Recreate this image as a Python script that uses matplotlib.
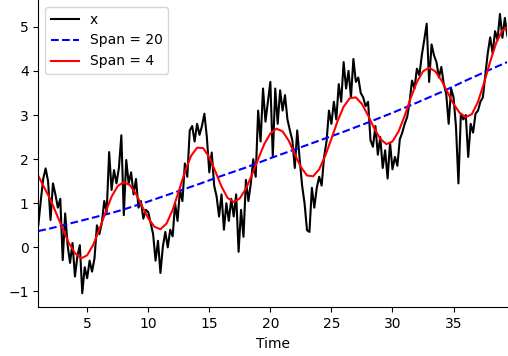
#!/usr/bin/env python3
"""
plot_ewma.py
------------
Noisy series x over time together with two exponentially weighted moving
averages (span 20 and span 4). Writes out.png.
"""

import matplotlib
matplotlib.use("Agg")
import matplotlib.pyplot as plt
import numpy as np

# ---------------------------------------------------------------------------
# Data
# ---------------------------------------------------------------------------

# raw series, sampled every 0.2 time units from t = 1.0
X_START = 1.0
X_STEP = 0.2
x_values = [
    0.50, 1.05, 1.55, 1.79, 1.50, 0.62, 1.45, 1.20, 0.90, 1.10,
    -0.29, 0.77, 0.05, -0.35, 0.10, -0.66, -0.20, 0.05, -1.04, -0.45,
    -0.70, -0.30, -0.55, -0.25, 0.50, 0.30, 0.55, 1.05, 0.80, 2.16,
    1.30, 1.75, 1.45, 1.80, 2.54, 0.73, 1.98, 1.45, 1.70, 1.20,
    1.55, 0.90, 1.05, 0.65, 0.85, 0.80, 0.55, 0.30, -0.30, 0.15,
    -0.58, 0.02, 0.35, 0.00, 0.40, 0.25, 1.00, 0.60, 1.30, 1.05,
    1.90, 1.60, 2.65, 2.75, 2.40, 2.80, 2.55, 2.75, 3.03, 2.50,
    1.70, 2.15, 1.40, 1.15, 0.70, 1.20, 0.40, 1.00, 0.60, 1.10,
    0.70, 1.20, -0.10, 0.85, 0.24, 1.53, 1.05, 1.45, 2.00, 1.60,
    3.10, 2.40, 3.60, 2.85, 3.30, 3.75, 2.05, 3.60, 2.80, 3.56,
    3.10, 3.45, 2.90, 2.65, 2.43, 1.80, 2.65, 2.00, 1.40, 1.00,
    0.39, 0.35, 1.35, 0.90, 1.35, 1.60, 1.40, 2.05, 2.40, 3.10,
    2.80, 3.30, 2.90, 3.70, 3.30, 4.20, 3.60, 4.00, 3.40, 4.27,
    3.75, 3.85, 3.50, 3.40, 3.20, 3.30, 2.43, 2.28, 2.75, 2.10,
    2.50, 1.80, 2.20, 1.56, 2.37, 1.77, 2.05, 1.85, 2.45, 2.60,
    2.80, 2.95, 3.30, 3.78, 3.60, 4.05, 3.90, 4.35, 4.70, 5.07,
    3.75, 4.60, 4.35, 4.20, 3.85, 4.09, 3.70, 3.48, 2.80, 3.60,
    3.40, 2.73, 1.45, 3.03, 2.90, 3.00, 2.05, 2.80, 2.60, 3.03,
    3.10, 3.30, 3.40, 3.90, 4.40, 4.76, 4.40, 4.90, 4.70, 5.29,
    4.75, 5.20, 4.80,
]

# slow average (span = 20)
span20_time = [1, 2, 3, 4, 5, 6, 7, 8, 9, 10, 12, 14, 16, 18, 20, 22, 24,
               26, 28, 30, 32, 34, 36, 38, 39.4]
span20_values = [0.37, 0.43, 0.50, 0.57, 0.64, 0.71, 0.78, 0.86, 0.95, 1.04,
                 1.23, 1.42, 1.62, 1.81, 2.02, 2.22, 2.42, 2.62, 2.83, 3.05,
                 3.28, 3.52, 3.78, 4.03, 4.20]

# fast average (span = 4), every 0.5 time units
span4_time = [1.0, 1.5, 2.0, 2.5, 3.0, 3.5, 4.0, 4.5, 5.0, 5.5,
              6.0, 6.5, 7.0, 7.5, 8.0, 8.5, 9.0, 9.5, 10.0, 10.5,
              11.0, 11.5, 12.0, 12.5, 13.0, 13.5, 14.0, 14.5, 15.0, 15.5,
              16.0, 16.5, 17.0, 17.5, 18.0, 18.5, 19.0, 19.5, 20.0, 20.5,
              21.0, 21.5, 22.0, 22.5, 23.0, 23.5, 24.0, 24.5, 25.0, 25.5,
              26.0, 26.5, 27.0, 27.5, 28.0, 28.5, 29.0, 29.5, 30.0, 30.5,
              31.0, 31.5, 32.0, 32.5, 33.0, 33.5, 34.0, 34.5, 35.0, 35.5,
              36.0, 36.5, 37.0, 37.5, 38.0, 38.5, 39.0, 39.4]
span4_values = [1.62, 1.35, 1.08, 0.75, 0.42, 0.10, -0.13, -0.25, -0.18, 0.06,
                0.41, 0.79, 1.15, 1.39, 1.48, 1.41, 1.21, 0.93, 0.66, 0.47,
                0.41, 0.54, 0.85, 1.27, 1.71, 2.07, 2.26, 2.25, 2.04, 1.72,
                1.38, 1.12, 1.03, 1.11, 1.33, 1.65, 2.00, 2.34, 2.58, 2.69,
                2.63, 2.42, 2.11, 1.82, 1.63, 1.61, 1.77, 2.08, 2.46, 2.86,
                3.19, 3.38, 3.40, 3.25, 2.99, 2.70, 2.46, 2.34, 2.40, 2.63,
                2.98, 3.39, 3.75, 3.99, 4.07, 3.99, 3.79, 3.52, 3.25, 3.05,
                2.95, 3.02, 3.30, 3.73, 4.21, 4.64, 4.92, 4.99]

# ---------------------------------------------------------------------------
# Plot
# ---------------------------------------------------------------------------

def main():
    x_time = X_START + X_STEP * np.arange(len(x_values))

    fig, ax = plt.subplots(figsize=(5.08, 3.56), dpi=100)
    fig.subplots_adjust(left=0.0754, right=0.9986, bottom=0.137, top=1.0)

    ax.plot(x_time, x_values, color='black', linewidth=1.5, label='x')
    ax.plot(span20_time, span20_values, color='blue', linestyle='--',
            linewidth=1.5, label='Span = 20')
    ax.plot(span4_time, span4_values, color='red', linewidth=1.5,
            label='Span = 4')

    ax.set_xlim(x_time[0], x_time[-1])
    ax.set_xlabel('Time')
    ax.spines['top'].set_visible(False)
    ax.spines['right'].set_visible(False)
    ax.legend(loc='upper left')

    fig.savefig('out.png', dpi=100)


if __name__ == "__main__":
    main()
